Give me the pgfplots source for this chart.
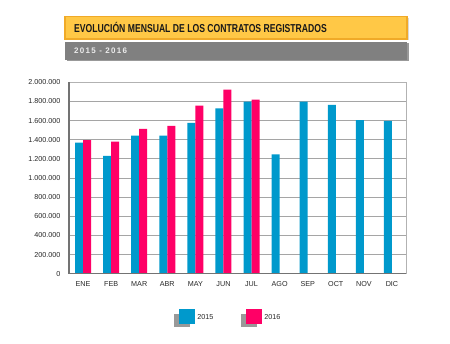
\documentclass[border=0pt]{standalone}
\usepackage{pgfplots}
\pgfplotsset{compat=1.18}
\usepackage{fontspec}
\setmainfont{Liberation Sans}
\newfontfamily\titlefont{Liberation Sans}[FakeStretch=0.75]
\newfontfamily\spacedfont{Liberation Sans}[LetterSpace=16]
\definecolor{cblue}{RGB}{0,153,204}
\definecolor{cpink}{RGB}{255,0,102}
\definecolor{ygold}{RGB}{255,200,70}
\definecolor{yedge}{RGB}{240,170,40}
\definecolor{gbox}{RGB}{128,128,128}
\definecolor{gridc}{RGB}{165,165,165}
\definecolor{axisc}{RGB}{115,115,115}
\definecolor{txt}{RGB}{40,40,40}
\begin{document}
\begin{tikzpicture}
\path[use as bounding box, fill=white] (0pt,0pt) rectangle (450pt,344pt);
% title boxes
\fill[black!15] (66.5pt,303.5pt) rectangle (408.5pt,325.8pt);
\filldraw[fill=ygold, draw=yedge, line width=1.5pt] (65pt,305pt) rectangle (407pt,327.3pt);
\node[anchor=west, inner sep=0pt, font=\titlefont\bfseries\fontsize{11.5}{12}\selectfont, text=black!90] at (74pt,316.2pt) {EVOLUCIÓN MENSUAL DE LOS CONTRATOS REGISTRADOS};
\fill[black!40] (66.5pt,282.5pt) rectangle (408.5pt,300.5pt);
\fill[gbox] (65pt,284pt) rectangle (407pt,302pt);
\node[anchor=west, inner sep=0pt, font=\spacedfont\bfseries\fontsize{8}{9}\selectfont, text=white!92!black] at (74pt,293pt) {2015 - 2016};
\begin{axis}[
  at={(69pt,70.3pt)}, anchor=south west,
  scale only axis, width=337pt, height=191.4pt,
  ybar=0pt, bar width=8pt,
  xmin=-0.5, xmax=11.5, ymin=0, ymax=2000000,
  xtick={0,...,11},
  xticklabels={ENE,FEB,MAR,ABR,MAY,JUN,JUL,AGO,SEP,OCT,NOV,DIC},
  ytick={0,200000,...,2000000},
  major tick length=0pt,
  ymajorgrids, grid style={gridc, line width=0.9pt},
  axis line style={draw=black!30, line width=0.9pt},
  scaled y ticks=false,
  /pgf/number format/fixed,
  /pgf/number format/1000 sep={.},
  /pgf/number format/assume math mode=true,
  ticklabel style={font=\fontsize{7.2}{8}\selectfont, text=txt},
  yticklabel style={xshift=-5pt},
  xticklabel style={yshift=-4pt},
  legend columns=2,
  legend style={at={(axis description cs:0.473,-0.232)}, anchor=center, draw=none, fill=none,
    font=\fontsize{7.2}{8}\selectfont, text=txt,
    /tikz/every even column/.append style={column sep=26pt}},
  after end axis/.code={\draw[axisc, line width=1.5pt] (rel axis cs:0,1) -- (rel axis cs:0,0) -- (rel axis cs:1,0);},
]
\addplot[fill=cblue, draw=none,
  legend image code/.code={\fill[black!40] (0pt,-9pt) rectangle (16pt,4pt); \fill[cblue] (5pt,-6.5pt) rectangle (21pt,8.5pt);}]
  coordinates {(0,1369000) (1,1230000) (2,1442000) (3,1442000) (4,1575000) (5,1728000) (6,1798000) (7,1247000) (8,1798000) (9,1763000) (10,1606000) (11,1596000)};
\addlegendentry{2015}
\addplot[fill=cpink, draw=none,
  legend image code/.code={\fill[black!40] (0pt,-9pt) rectangle (16pt,4pt); \fill[cpink] (5pt,-6.5pt) rectangle (21pt,8.5pt);}]
  coordinates {(0,1397000) (1,1380000) (2,1512000) (3,1544000) (4,1756000) (5,1923000) (6,1819000)};
\addlegendentry{2016}
\end{axis}
\end{tikzpicture}
\end{document}
